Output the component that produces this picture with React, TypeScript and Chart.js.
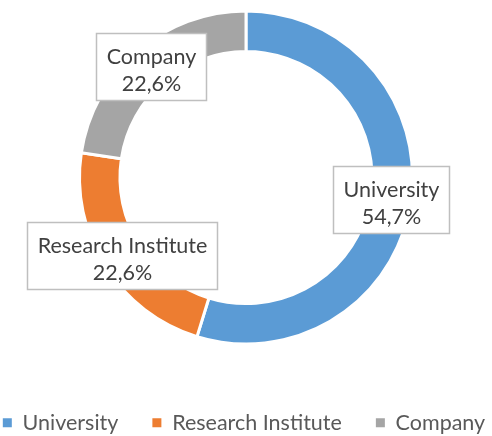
import React, { useEffect, useRef } from 'react';
import { Chart, registerables } from 'chart.js';

Chart.register(...registerables);

const categories = ['University', 'Research Institute', 'Company'];
const shares = [54.7, 22.6, 22.6];
const colors = ['#5B9BD5', '#ED7D31', '#A5A5A5'];

const FONT = 'Lato, "Open Sans", sans-serif';
const FONT_SIZE = 21.5;

const fmt = (v: number) => v.toFixed(1).replace('.', ',') + '%';

const boxLabels = {
  id: 'boxLabels',
  afterDatasetsDraw(chart: any) {
    const ctx = chart.ctx;
    const meta = chart.getDatasetMeta(0);
    ctx.save();
    ctx.font = `${FONT_SIZE}px ${FONT}`;
    meta.data.forEach((arc: any, i: number) => {
      const p = arc.getProps(['x', 'y', 'startAngle', 'endAngle', 'innerRadius', 'outerRadius'], true);
      const mid = (p.startAngle + p.endAngle) / 2;
      const r = (p.innerRadius + p.outerRadius) / 2;
      const cx = p.x + Math.cos(mid) * r;
      const cy = p.y + Math.sin(mid) * r;
      const l1 = categories[i];
      const l2 = fmt(shares[i]);
      const w = Math.round(Math.max(ctx.measureText(l1).width, ctx.measureText(l2).width) + 20);
      const h = 67;
      const bx = Math.round(cx - w / 2) + 0.5;
      const by = Math.round(cy - h / 2) + 0.5;
      ctx.fillStyle = '#FFFFFF';
      ctx.fillRect(bx, by, w, h);
      ctx.strokeStyle = '#BFBFBF';
      ctx.lineWidth = 1.5;
      ctx.strokeRect(bx, by, w, h);
      ctx.fillStyle = '#404040';
      ctx.textAlign = 'center';
      ctx.textBaseline = 'alphabetic';
      ctx.fillText(l1, bx + w / 2, by + 30);
      ctx.fillText(l2, bx + w / 2, by + 57);
    });
    ctx.restore();
  },
};

export default function App() {
  const ref = useRef<HTMLCanvasElement | null>(null);
  useEffect(() => {
    if (!ref.current) return;
    Chart.defaults.font.family = FONT;
    const chart = new Chart(ref.current, {
      type: 'doughnut',
      data: {
        labels: categories,
        datasets: [
          {
            data: shares,
            backgroundColor: colors,
            borderColor: '#FFFFFF',
            borderWidth: 3,
            radius: 166.5,
            cutout: '75.7%',
          } as any,
        ],
      },
      options: {
        animation: false,
        responsive: false,
        layout: { padding: { left: -34, right: -30, top: 0, bottom: -7.45 } },
        plugins: {
          tooltip: { enabled: false },
          legend: {
            position: 'bottom',
            title: { display: true, text: '', padding: { top: 10.95, bottom: 0 }, font: { size: 10 } },
            labels: {
              boxWidth: 9,
              boxHeight: 9,
              padding: 34,
              color: '#595959',
              font: { size: FONT_SIZE, family: FONT },
              generateLabels: (c: any) =>
                (Chart as any).overrides.doughnut.plugins.legend.labels
                  .generateLabels(c)
                  .map((l: any) => ({ ...l, lineWidth: 0, strokeStyle: l.fillStyle })),
            },
          },
        },
      } as any,
      plugins: [boxLabels],
    });
    return () => chart.destroy();
  }, []);
  return (
    <div style={{ position: 'fixed', left: 0, top: 0, width: 492, height: 436, background: '#fff' }}>
      <canvas ref={ref} width={492} height={436} style={{ display: 'block' }} />
    </div>
  );
}
